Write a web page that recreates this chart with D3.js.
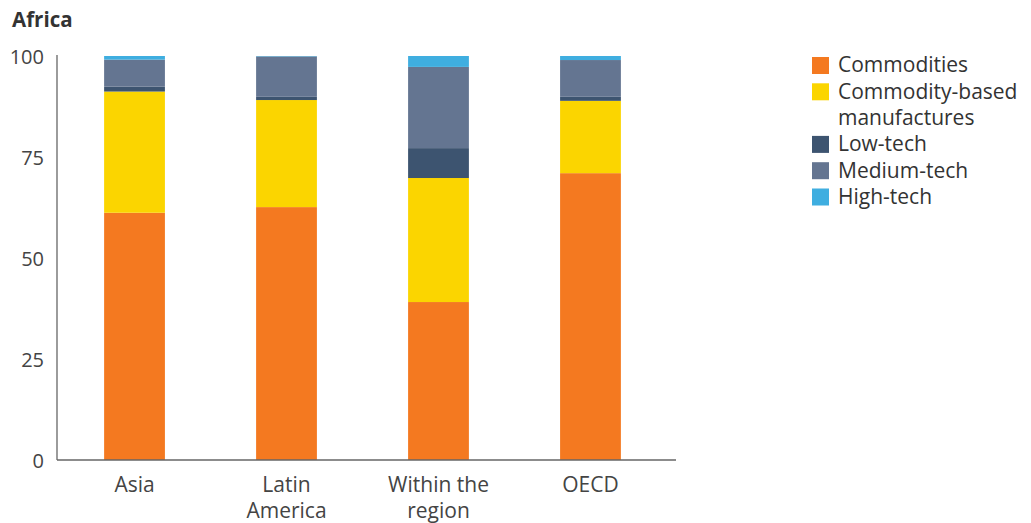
<!DOCTYPE html>
<html>
<head>
<meta charset="utf-8">
<script src="https://cdn.jsdelivr.net/npm/d3@7"></script>
<style>
  body { margin: 0; background: #fff; }
  svg { font-family: "Open Sans", Lato, sans-serif; }
</style>
</head>
<body>
<div id="chart"></div>
<script>
const categories = [["Asia"], ["Latin", "America"], ["Within the", "region"], ["OECD"]];
const seriesNames = ["Commodities", "Commodity-based manufactures", "Low-tech", "Medium-tech", "High-tech"];
const commodities = [61.2, 62.6, 39.1, 71.0];
const commodityBased = [30.0, 26.5, 30.7, 17.9];
const lowTech = [1.2, 0.8, 7.4, 1.0];
const mediumTech = [6.7, 10.0, 20.1, 9.1];
const highTech = [0.9, 0.1, 2.7, 1.0];
const yTicks = [0, 25, 50, 75, 100];
const colors = ["#f47920", "#fbd500", "#3d5470", "#647591", "#3faee0"];

const W = 1031, H = 523;
const svg = d3.select("#chart").append("svg")
    .attr("width", W)
    .attr("height", H);

const series = [commodities, commodityBased, lowTech, mediumTech, highTech];
const rows = categories.map((c, i) => {
    const r = { key: c.join(" ") };
    seriesNames.forEach((s, j) => r[s] = series[j][i]);
    return r;
});

const x = d3.scaleBand()
    .domain(rows.map(d => d.key))
    .range([57, 668])
    .paddingInner(0.6)
    .paddingOuter(0.31);

const y = d3.scaleLinear()
    .domain([0, 100])
    .range([460, 56]);

const color = d3.scaleOrdinal().domain(seriesNames).range(colors);

const stack = d3.stack().keys(seriesNames)(rows);

svg.append("g")
    .selectAll("g")
    .data(stack)
    .enter()
        .append("g")
        .attr("fill", d => color(d.key))
        .selectAll("rect")
        .data(d => d)
        .enter()
            .append("rect")
            .attr("x", d => x(d.data.key))
            .attr("width", x.bandwidth())
            .attr("y", d => y(d[1]))
            .attr("height", d => y(d[0]) - y(d[1]));

// axes
svg.append("line")
    .attr("x1", 57).attr("x2", 57)
    .attr("y1", y(100) - 1).attr("y2", y(0))
    .attr("stroke", "#666").attr("stroke-width", 1.3);
svg.append("line")
    .attr("x1", 57).attr("x2", 676)
    .attr("y1", y(0)).attr("y2", y(0))
    .attr("stroke", "#666").attr("stroke-width", 1.3);

svg.append("g")
    .selectAll("text")
    .data(yTicks)
    .enter()
        .append("text")
        .attr("x", 44)
        .attr("y", d => y(d) + 1)
        .attr("dy", "0.35em")
        .attr("text-anchor", "end")
        .attr("fill", "#444")
        .attr("font-size", 20)
        .text(d => d);

const xl = svg.append("g")
    .selectAll("text")
    .data(rows)
    .enter()
        .append("text")
        .attr("text-anchor", "middle")
        .attr("fill", "#444")
        .attr("font-size", 21)
        .attr("transform", d => `translate(${x(d.key) + x.bandwidth() / 2}, 492)`);
xl.selectAll("tspan")
    .data((d, i) => categories[i])
    .enter()
        .append("tspan")
        .attr("x", 0)
        .attr("dy", (d, i) => i === 0 ? 0 : 26)
        .text(d => d);

// title
svg.append("text")
    .attr("x", 12).attr("y", 27)
    .attr("font-size", 20.5)
    .attr("font-weight", "bold")
    .attr("fill", "#333")
    .text("Africa");

// legend
const legendLines = [["Commodities"], ["Commodity-based", "manufactures"], ["Low-tech"], ["Medium-tech"], ["High-tech"]];
const lineStep = 26.3;
let ly = 65;
legendLines.forEach((lines, i) => {
    svg.append("rect")
        .attr("x", 812).attr("y", ly - 8)
        .attr("width", 17).attr("height", 17)
        .attr("fill", colors[i]);
    svg.append("text")
        .attr("transform", `translate(838, ${ly})`)
        .attr("font-size", 21)
        .attr("fill", "#333")
        .selectAll("tspan")
        .data(lines)
        .enter()
            .append("tspan")
            .attr("x", 0)
            .attr("y", (t, k) => k * lineStep)
            .attr("dy", "0.35em")
            .text(t => t);
    ly += lines.length * lineStep;
});
</script>
</body>
</html>
